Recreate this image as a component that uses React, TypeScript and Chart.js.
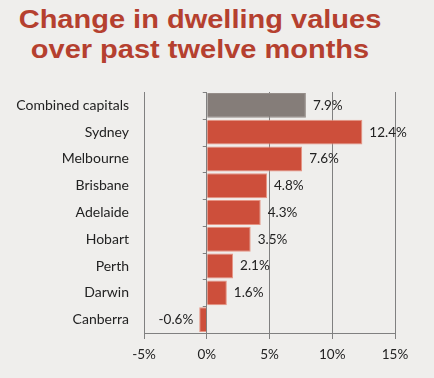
import React, { useEffect, useRef } from "react";
import { Chart, registerables } from "chart.js";
Chart.register(...registerables);

const categories = ["Combined capitals", "Sydney", "Melbourne", "Brisbane", "Adelaide", "Hobart", "Perth", "Darwin", "Canberra"];
const values = [7.9, 12.4, 7.6, 4.8, 4.3, 3.5, 2.1, 1.6, -0.6];
const barColors = ["#857d79", "#cd4f3b", "#cd4f3b", "#cd4f3b", "#cd4f3b", "#cd4f3b", "#cd4f3b", "#cd4f3b", "#cd4f3b"];
const borderColors = ["#958d89", "#e69483", "#e69483", "#e69483", "#e69483", "#e69483", "#e69483", "#e69483", "#e69483"];
const xMin = -5;
const xMax = 15;
const xStep = 5;
const titleLines = ["Change in dwelling values", "over past twelve months"];

const FONT = "Lato, 'Open Sans', sans-serif";

const extrasPlugin = {
  id: "extras",
  afterDatasetsDraw(chart: any) {
    const { ctx, scales, chartArea } = chart;
    const x = scales.x;
    const meta = chart.getDatasetMeta(0);
    ctx.save();
    const x0 = x.getPixelForValue(0);
    ctx.strokeStyle = "#808080";
    ctx.lineWidth = 1;
    const n = categories.length;
    for (let i = 0; i <= n; i++) {
      const y = Math.round(chartArea.top + (i * (chartArea.bottom - chartArea.top)) / n) + 0.5;
      ctx.beginPath();
      ctx.moveTo(x0 - 4, y);
      ctx.lineTo(x0, y);
      ctx.stroke();
    }
    ctx.fillStyle = "#222";
    ctx.font = "13.5px " + FONT;
    ctx.textBaseline = "middle";
    meta.data.forEach((bar: any, i: number) => {
      const v = values[i];
      const label = v.toFixed(1) + "%";
      if (v >= 0) {
        ctx.textAlign = "left";
        ctx.fillText(label, bar.x + 7, bar.y);
      } else {
        ctx.textAlign = "right";
        ctx.fillText(label, bar.x - 6, bar.y);
      }
    });
    ctx.restore();
  },
};

export default function App() {
  const ref = useRef<HTMLCanvasElement>(null);
  useEffect(() => {
    const chart = new Chart(ref.current!, {
      type: "bar",
      data: {
        labels: categories,
        datasets: [
          {
            data: values,
            backgroundColor: barColors,
            borderColor: borderColors,
            borderWidth: 1,
            barPercentage: 0.93,
            categoryPercentage: 1,
          },
        ],
      },
      options: {
        indexAxis: "y",
        animation: false,
        responsive: false,
        maintainAspectRatio: false,
        layout: { padding: { top: 92, right: 39, bottom: 0, left: 0 } },
        plugins: { legend: { display: false }, tooltip: { enabled: false }, title: { display: false } },
        scales: {
          x: {
            min: xMin,
            max: xMax,
            ticks: {
              stepSize: xStep,
              callback: (v: any) => v + "%",
              color: "#222",
              font: { family: FONT, size: 13.5 },
              padding: 8,
            },
            grid: { color: "#808080", tickLength: 6, lineWidth: 1 },
            border: { color: "#808080" },
            afterFit: (s: any) => {
              s.height = 45;
            },
          },
          y: {
            ticks: { color: "#222", font: { family: FONT, size: 14 }, padding: 15 },
            grid: { display: false, drawTicks: false, tickLength: 0 },
            border: { color: "#808080" },
            afterFit: (s: any) => {
              s.width = 144;
            },
          },
        },
      },
      plugins: [extrasPlugin],
    });
    return () => chart.destroy();
  }, []);
  return (
    <div style={{ position: "absolute", left: 0, top: 0, width: 434, height: 378, background: "#efeeec", overflow: "hidden" }}>
      <div
        style={{
          position: "absolute",
          left: 0,
          top: 4,
          width: 400,
          textAlign: "center",
          fontFamily: "'Liberation Sans', Arial, sans-serif",
          fontWeight: "bold",
          fontSize: 25,
          lineHeight: "30px",
          color: "#b5402f",
          transform: "scaleX(1.16)",
          transformOrigin: "200px 0",
        }}
      >
        {titleLines.map((t) => (
          <div key={t}>{t}</div>
        ))}
      </div>
      <canvas ref={ref} width={434} height={378} style={{ position: "absolute", left: 0, top: 0 }} />
    </div>
  );
}
